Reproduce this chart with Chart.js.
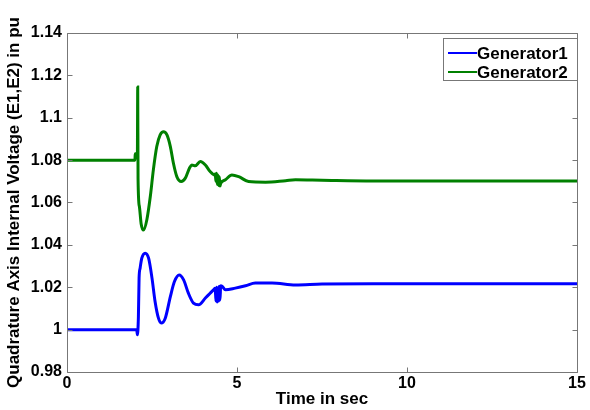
<!DOCTYPE html>
<html><head><meta charset="utf-8">
<script src="https://cdn.jsdelivr.net/npm/chart.js@4.4.0/dist/chart.umd.min.js"></script>
<style>html,body{margin:0;padding:0;background:#fff;}#wrap{width:590px;height:410px;position:relative}</style>
</head><body><div id="wrap"><canvas id="c" width="590" height="410"></canvas></div>
<script>
const seriesNames = ['Generator1', 'Generator2'];
const seriesColors = ['#0000ff', '#008000'];

const time1 = [0, 2.05, 2.07, 2.10, 2.12, 2.15, 2.20, 2.30, 2.40, 2.50, 2.59, 2.69, 2.77, 2.89, 3.04, 3.16, 3.30, 3.43, 3.57, 3.72, 3.87, 4.07, 4.21, 4.31, 4.36, 4.38, 4.40, 4.42, 4.44, 4.46, 4.48, 4.50, 4.52, 4.56, 4.66, 4.95, 5.25, 5.54, 6.03, 6.72, 7.5, 9, 12, 15];
const gen1  = [1.0, 1.0, 0.9976, 1.006, 1.0243, 1.029, 1.0337, 1.0361, 1.0337, 1.0243, 1.0133, 1.0054, 1.0031, 1.0054, 1.0156, 1.0227, 1.0258, 1.0235, 1.0172, 1.0125, 1.0117, 1.0149, 1.0172, 1.0188, 1.0195, 1.0135, 1.0200, 1.0130, 1.0195, 1.0135, 1.0205, 1.0140, 1.0207, 1.0205, 1.0188, 1.0196, 1.0207, 1.0220, 1.0220, 1.0211, 1.0215, 1.0216, 1.0216, 1.0216];

const time2 = [0, 2.0, 2.005, 2.07, 2.08, 2.09, 2.13, 2.18, 2.25, 2.35, 2.45, 2.54, 2.64, 2.74, 2.84, 2.94, 3.04, 3.13, 3.23, 3.36, 3.48, 3.60, 3.67, 3.77, 3.92, 4.07, 4.21, 4.34, 4.36, 4.38, 4.40, 4.42, 4.44, 4.46, 4.48, 4.50, 4.52, 4.66, 4.85, 5.05, 5.34, 5.84, 6.43, 6.72, 7.5, 9, 12, 15];
const gen2  = [1.08, 1.08, 1.083, 1.083, 1.1145, 1.071, 1.058, 1.050, 1.047, 1.052, 1.0628, 1.0754, 1.0864, 1.0919, 1.0934, 1.0919, 1.0864, 1.0785, 1.0722, 1.0699, 1.0715, 1.0762, 1.0777, 1.0773, 1.0793, 1.0777, 1.0746, 1.0730, 1.0735, 1.0700, 1.0738, 1.0685, 1.0730, 1.0680, 1.0722, 1.0678, 1.0690, 1.0707, 1.0730, 1.0722, 1.0699, 1.0696, 1.0703, 1.0707, 1.0705, 1.0702, 1.0702, 1.0702];

const xTicks = [0, 5, 10, 15];
const xTickLabels = ['0', '5', '10', '15'];
const yTicks = [0.98, 1.0, 1.02, 1.04, 1.06, 1.08, 1.1, 1.12, 1.14];
const yTickLabels = ['0.98', '1', '1.02', '1.04', '1.06', '1.08', '1.1', '1.12', '1.14'];
const xTitle = 'Time in sec';
const yTitle = 'Quadrature Axis Internal Voltage (E1,E2) in pu';

const FONT = 'Arial, "Liberation Sans", sans-serif';

function toPoints(ts, vs) { return ts.map((t, i) => ({x: t, y: vs[i]})); }

const frameTicks = {
  id: 'frameTicks',
  afterDatasetsDraw(chart) {
    const {ctx, chartArea: a, scales} = chart;
    ctx.save();
    ctx.strokeStyle = '#777777';
    ctx.lineWidth = 1;
    ctx.beginPath();
    const L = Math.round(a.left) + 0.5, R = Math.round(a.right) + 0.5, T = Math.round(a.top) + 0.5, B = Math.round(a.bottom) + 0.5;
    ctx.rect(L, T, R - L, B - T);
    const tl = 5;
    xTicks.forEach(v => {
      const x = Math.round(scales.x.getPixelForValue(v)) + 0.5;
      ctx.moveTo(x, B); ctx.lineTo(x, B - tl);
      ctx.moveTo(x, T); ctx.lineTo(x, T + tl);
    });
    yTicks.forEach(v => {
      const y = Math.round(scales.y.getPixelForValue(v)) + 0.5;
      ctx.moveTo(L, y); ctx.lineTo(L + tl, y);
      ctx.moveTo(R, y); ctx.lineTo(R - tl, y);
    });
    ctx.stroke();
    ctx.restore();
  }
};

const boxLegend = {
  id: 'boxLegend',
  afterDraw(chart) {
    const {ctx} = chart;
    ctx.save();
    const bx = 443, by = 38, bw = 134, bh = 42;
    ctx.fillStyle = '#fff';
    ctx.fillRect(bx, by, bw, bh);
    ctx.strokeStyle = '#777777';
    ctx.lineWidth = 1;
    ctx.strokeRect(bx + 0.5, by + 0.5, bw, bh);
    ctx.font = 'bold 17px ' + FONT;
    ctx.textBaseline = 'middle';
    ctx.fillStyle = '#000';
    chart.data.datasets.forEach((ds, i) => {
      const y = by + 15 + i * 19;
      ctx.strokeStyle = ds.borderColor;
      ctx.lineWidth = 2;
      ctx.beginPath(); ctx.moveTo(448, y); ctx.lineTo(477, y); ctx.stroke();
      ctx.fillText(ds.label, 477, y + 1);
    });
    ctx.restore();
  }
};

new Chart(document.getElementById('c'), {
  type: 'line',
  data: {
    datasets: [
      {label: seriesNames[0], data: toPoints(time1, gen1), borderColor: seriesColors[0], borderWidth: 3, pointRadius: 0, cubicInterpolationMode: 'monotone', fill: false},
      {label: seriesNames[1], data: toPoints(time2, gen2), borderColor: seriesColors[1], borderWidth: 3, pointRadius: 0, cubicInterpolationMode: 'monotone', fill: false}
    ]
  },
  options: {
    responsive: false,
    animation: false,
    devicePixelRatio: 1,
    layout: {padding: {top: 33, right: 13, left: 0, bottom: 0}},
    plugins: {legend: {display: false}, tooltip: {enabled: false}},
    scales: {
      x: {
        type: 'linear', min: 0, max: 15,
        afterBuildTicks: s => { s.ticks = xTicks.map(v => ({value: v})); },
        afterFit: s => { s.height = 38; },
        ticks: {callback: (v) => xTickLabels[xTicks.indexOf(v)], font: {family: FONT, size: 16, weight: 'bold'}, color: '#000', padding: 2, maxRotation: 0, autoSkip: false},
        grid: {display: false, drawTicks: false},
        border: {display: false},
        title: {display: true, text: xTitle, font: {family: FONT, size: 17, weight: 'bold'}, color: '#000', padding: 0}
      },
      y: {
        type: 'linear', min: 0.98, max: 1.14,
        afterBuildTicks: s => { s.ticks = yTicks.map(v => ({value: v})); },
        afterFit: s => { s.width = 67; },
        ticks: {callback: (v) => { const i = yTicks.findIndex(t => Math.abs(t - v) < 1e-9); return yTickLabels[i]; }, font: {family: FONT, size: 16, weight: 'bold'}, color: '#000', padding: 5, autoSkip: false},
        grid: {display: false, drawTicks: false},
        border: {display: false},
        title: {display: true, text: yTitle, font: {family: FONT, size: 17, weight: 'bold'}, color: '#000', padding: {top: 4, bottom: 0}}
      }
    }
  },
  plugins: [frameTicks, boxLegend]
});
</script>
</body></html>
